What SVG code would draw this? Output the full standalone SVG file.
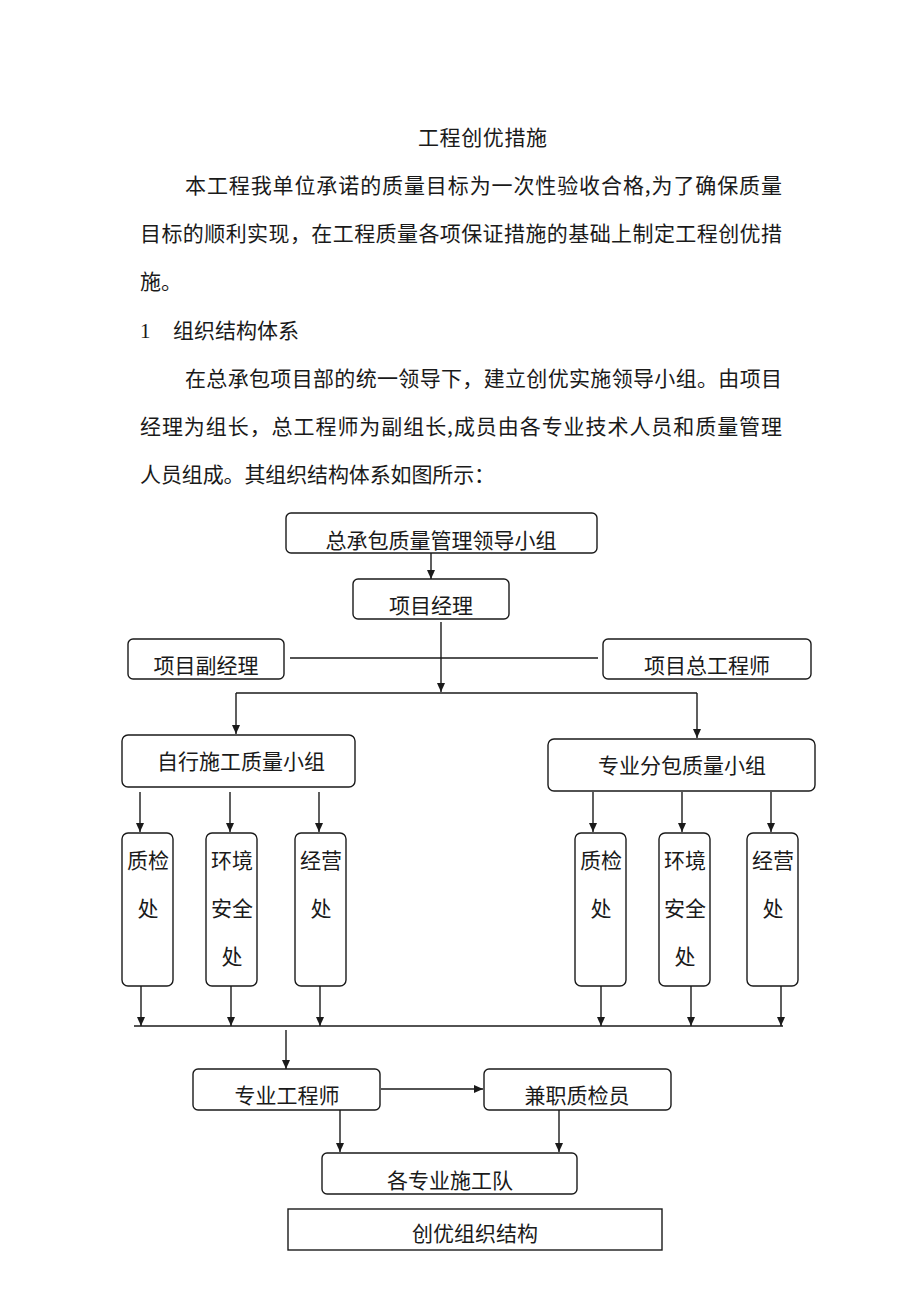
<svg xmlns="http://www.w3.org/2000/svg" width="920" height="1302" viewBox="0 0 920 1302">
<style>
.bg{fill:#ffffff}
.t{font-family:"Noto Sans CJK SC","Liberation Serif",sans-serif;font-size:21px;fill:#1a1a1a}
.num{font-family:"Liberation Serif",serif;font-size:21px;fill:#1a1a1a}
.c{text-anchor:middle}
.box{fill:#ffffff;stroke:#1a1a1a;stroke-width:1.4}
.ln{fill:none;stroke:#1a1a1a;stroke-width:1.4}
</style>
<defs>
<marker id="arr" markerUnits="userSpaceOnUse" markerWidth="10" markerHeight="10" refX="9" refY="4" orient="auto">
<path d="M0,0 L9,4 L0,8 z" fill="#1a1a1a"/>
</marker>
</defs>
<rect class="bg" x="0" y="0" width="920" height="1302"/>

<g id="text-body">
<text class="t" x="418" y="145" textLength="129">工程创优措施</text>
<text class="t" x="185" y="193" textLength="597">本工程我单位承诺的质量目标为一次性验收合格,为了确保质量</text>
<text class="t" x="140" y="241" textLength="642">目标的顺利实现，在工程质量各项保证措施的基础上制定工程创优措</text>
<text class="t" x="140" y="289">施。</text>
<text class="num" x="140" y="338">1</text>
<text class="t" x="173" y="338" textLength="126">组织结构体系</text>
<text class="t" x="185" y="386" textLength="597">在总承包项目部的统一领导下，建立创优实施领导小组。由项目</text>
<text class="t" x="140" y="434" textLength="642">经理为组长，总工程师为副组长,成员由各专业技术人员和质量管理</text>
<text class="t" x="140" y="482" textLength="355">人员组成。其组织结构体系如图所示：</text>
</g>

<g id="connectors">
<line class="ln" x1="431" y1="553" x2="431" y2="579" marker-end="url(#arr)"/>
<line class="ln" x1="441" y1="622" x2="441" y2="692" marker-end="url(#arr)"/>
<line class="ln" x1="290" y1="658" x2="598" y2="658"/>
<line class="ln" x1="236" y1="693" x2="697" y2="693"/>
<line class="ln" x1="236" y1="693" x2="236" y2="734" marker-end="url(#arr)"/>
<line class="ln" x1="697" y1="693" x2="697" y2="738" marker-end="url(#arr)"/>
<line class="ln" x1="140" y1="792" x2="140" y2="832" marker-end="url(#arr)"/>
<line class="ln" x1="230" y1="792" x2="230" y2="832" marker-end="url(#arr)"/>
<line class="ln" x1="319" y1="792" x2="319" y2="832" marker-end="url(#arr)"/>
<line class="ln" x1="593" y1="792" x2="593" y2="832" marker-end="url(#arr)"/>
<line class="ln" x1="682" y1="792" x2="682" y2="832" marker-end="url(#arr)"/>
<line class="ln" x1="771" y1="792" x2="771" y2="832" marker-end="url(#arr)"/>
<line class="ln" x1="141" y1="986" x2="141" y2="1026" marker-end="url(#arr)"/>
<line class="ln" x1="231" y1="986" x2="231" y2="1026" marker-end="url(#arr)"/>
<line class="ln" x1="320" y1="986" x2="320" y2="1026" marker-end="url(#arr)"/>
<line class="ln" x1="601" y1="986" x2="601" y2="1026" marker-end="url(#arr)"/>
<line class="ln" x1="691" y1="986" x2="691" y2="1026" marker-end="url(#arr)"/>
<line class="ln" x1="781" y1="986" x2="781" y2="1026" marker-end="url(#arr)"/>
<line class="ln" x1="134" y1="1026" x2="783" y2="1026"/>
<line class="ln" x1="286" y1="1030" x2="286" y2="1069" marker-end="url(#arr)"/>
<line class="ln" x1="381" y1="1089" x2="483" y2="1089" marker-end="url(#arr)"/>
<line class="ln" x1="340" y1="1110" x2="340" y2="1152" marker-end="url(#arr)"/>
<line class="ln" x1="559" y1="1110" x2="559" y2="1152" marker-end="url(#arr)"/>
</g>

<g id="n-leader">
<rect class="box" x="286" y="513" width="311" height="40" rx="5"/>
<text class="t c" x="441" y="548">总承包质量管理领导小组</text>
</g>
<g id="n-pm">
<rect class="box" x="353" y="579" width="156" height="40" rx="5"/>
<text class="t c" x="431" y="613">项目经理</text>
</g>
<g id="n-deputy">
<rect class="box" x="128" y="639" width="156" height="40" rx="5"/>
<text class="t c" x="206" y="673">项目副经理</text>
</g>
<g id="n-chief">
<rect class="box" x="603" y="639" width="208" height="40" rx="5"/>
<text class="t c" x="707" y="673">项目总工程师</text>
</g>
<g id="n-self">
<rect class="box" x="122" y="735" width="233" height="52" rx="6"/>
<text class="t c" x="241" y="769">自行施工质量小组</text>
</g>
<g id="n-sub">
<rect class="box" x="548" y="739" width="267" height="52" rx="6"/>
<text class="t c" x="682" y="773">专业分包质量小组</text>
</g>

<g id="n-l-qc">
<rect class="box" x="122" y="833" width="51" height="153" rx="6"/>
<text class="t c" x="148" y="868">质检</text>
<text class="t c" x="148" y="916">处</text>
</g>
<g id="n-l-env">
<rect class="box" x="206" y="833" width="51" height="153" rx="6"/>
<text class="t c" x="232" y="868">环境</text>
<text class="t c" x="232" y="916">安全</text>
<text class="t c" x="232" y="964">处</text>
</g>
<g id="n-l-biz">
<rect class="box" x="295" y="833" width="51" height="153" rx="6"/>
<text class="t c" x="321" y="868">经营</text>
<text class="t c" x="321" y="916">处</text>
</g>
<g id="n-r-qc">
<rect class="box" x="575" y="833" width="51" height="153" rx="6"/>
<text class="t c" x="601" y="868">质检</text>
<text class="t c" x="601" y="916">处</text>
</g>
<g id="n-r-env">
<rect class="box" x="659" y="833" width="51" height="153" rx="6"/>
<text class="t c" x="685" y="868">环境</text>
<text class="t c" x="685" y="916">安全</text>
<text class="t c" x="685" y="964">处</text>
</g>
<g id="n-r-biz">
<rect class="box" x="747" y="833" width="51" height="153" rx="6"/>
<text class="t c" x="773" y="868">经营</text>
<text class="t c" x="773" y="916">处</text>
</g>

<g id="n-engineer">
<rect class="box" x="193" y="1069" width="187" height="41" rx="5"/>
<text class="t c" x="287" y="1103">专业工程师</text>
</g>
<g id="n-inspector">
<rect class="box" x="484" y="1069" width="187" height="41" rx="5"/>
<text class="t c" x="577" y="1103">兼职质检员</text>
</g>
<g id="n-teams">
<rect class="box" x="322" y="1153" width="255" height="41" rx="5"/>
<text class="t c" x="450" y="1188">各专业施工队</text>
</g>
<g id="caption">
<rect class="box" x="288" y="1209" width="374" height="41" rx="0"/>
<text class="t c" x="475" y="1241">创优组织结构</text>
</g>
</svg>
